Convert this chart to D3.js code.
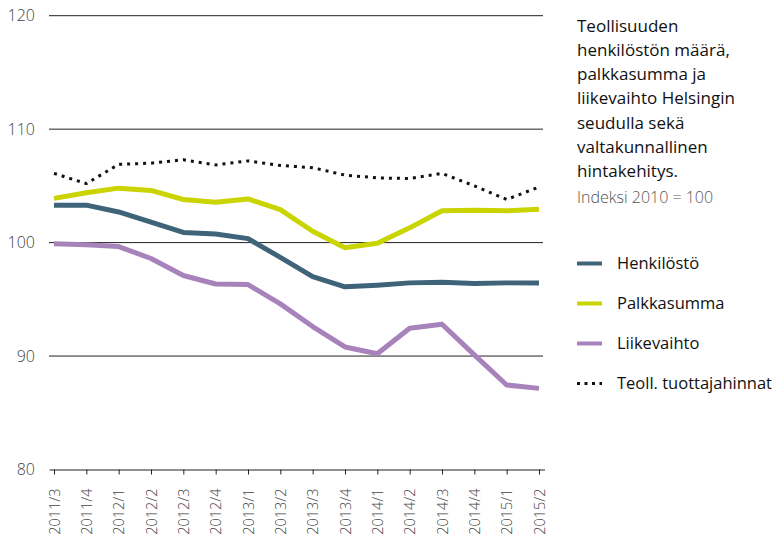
<!DOCTYPE html>
<html>
<head>
<meta charset="utf-8">
<script src="https://cdn.jsdelivr.net/npm/d3@7"></script>
<style>
  body { margin: 0; background: #fff; }
  svg { font-family: "Open Sans", sans-serif; }
</style>
</head>
<body>
<div id="chart"></div>
<script>
var quarters = ["2011/3", "2011/4", "2012/1", "2012/2", "2012/3", "2012/4", "2013/1", "2013/2",
    "2013/3", "2013/4", "2014/1", "2014/2", "2014/3", "2014/4", "2015/1", "2015/2"];

var henkilosto = [103.3, 103.3, 102.7, 101.8, 100.9, 100.75, 100.35, 98.7, 97.0, 96.1, 96.25, 96.45, 96.5, 96.4, 96.45, 96.45];
var palkkasumma = [103.9, 104.4, 104.8, 104.6, 103.8, 103.55, 103.85, 102.9, 101.0, 99.55, 99.95, 101.3, 102.8, 102.85, 102.8, 102.95];
var liikevaihto = [99.9, 99.8, 99.65, 98.6, 97.1, 96.35, 96.3, 94.6, 92.6, 90.8, 90.2, 92.45, 92.8, 90.1, 87.45, 87.15];
var tuottajahinnat = [106.1, 105.2, 106.9, 107.0, 107.3, 106.85, 107.2, 106.8, 106.6, 105.95, 105.7, 105.65, 106.1, 105.0, 103.8, 104.9];

var yTicks = [80, 90, 100, 110, 120];

var titleLines = ["Teollisuuden", "henkilöstön määrä,", "palkkasumma ja",
    "liikevaihto Helsingin", "seudulla sekä", "valtakunnallinen", "hintakehitys."];
var subtitle = "Indeksi 2010 = 100";

var series = [
    { name: "Henkilöstö", values: henkilosto, color: "#3f6479", dash: null },
    { name: "Palkkasumma", values: palkkasumma, color: "#c9d400", dash: null },
    { name: "Liikevaihto", values: liikevaihto, color: "#a882bb", dash: null },
    { name: "Teoll. tuottajahinnat", values: tuottajahinnat, color: "#111", dash: "3,5" }
];

var width = 773, height = 540;

var svg = d3.select("#chart")
    .append("svg")
    .attr("width", width)
    .attr("height", height);

var x = d3.scalePoint()
    .domain(quarters)
    .range([54, 539]);

var y = d3.scaleLinear()
    .domain([80, 120])
    .range([469.5, 15.7]);

// gridlines
svg.append("g")
    .selectAll("line")
    .data(yTicks.filter(d => d > 80))
    .join("line")
    .attr("x1", 49)
    .attr("x2", 543)
    .attr("y1", d => y(d))
    .attr("y2", d => y(d))
    .attr("stroke", "#222")
    .attr("stroke-width", 1);

// y labels
svg.append("g")
    .selectAll("text")
    .data(yTicks)
    .join("text")
    .attr("x", 35)
    .attr("y", d => y(d))
    .attr("dy", "0.35em")
    .attr("text-anchor", "end")
    .attr("font-size", 16)
    .attr("font-weight", 300)
    .attr("fill", "#444")
    .text(d => d);

// x axis
var xAxis = d3.axisBottom(x)
    .tickSize(5)
    .tickSizeOuter(0);

var gx = svg.append("g")
    .attr("transform", "translate(0," + y(80) + ")")
    .call(xAxis);

gx.select(".domain")
    .attr("d", "M49.5,0.5H545")
    .attr("stroke", "#222");
gx.selectAll(".tick line").attr("stroke", "#222");
gx.selectAll(".tick text")
    .attr("transform", "rotate(-90)")
    .attr("text-anchor", "end")
    .attr("x", -19)
    .attr("y", 0)
    .attr("dy", "0.35em")
    .attr("font-size", 14.5)
    .attr("font-weight", 300)
    .attr("fill", "#444")
    .attr("font-family", "Open Sans, sans-serif");

// lines
var line = d3.line()
    .x((d, i) => x(quarters[i]))
    .y(d => y(d));

svg.append("g")
    .selectAll("path")
    .data(series)
    .join("path")
    .attr("d", d => line(d.values))
    .attr("fill", "none")
    .attr("stroke", d => d.color)
    .attr("stroke-width", d => d.dash ? 3 : 5)
    .attr("stroke-dasharray", d => d.dash)
    .attr("stroke-linejoin", "round");

// title
var title = svg.append("text")
    .attr("x", 577)
    .attr("y", 31.5)
    .attr("font-size", 17)
    .attr("fill", "#111");

title.selectAll("tspan")
    .data(titleLines)
    .join("tspan")
    .attr("x", 577)
    .attr("dy", (d, i) => i === 0 ? 0 : 24.3)
    .text(d => d);

svg.append("text")
    .attr("x", 577)
    .attr("y", 203)
    .attr("font-size", 16)
    .attr("font-weight", 300)
    .attr("fill", "#555")
    .text(subtitle);

// legend
var legend = svg.append("g")
    .selectAll("g")
    .data(series)
    .join("g")
    .attr("transform", (d, i) => "translate(577," + (263.5 + i * 40) + ")");

legend.append("line")
    .attr("x1", 0)
    .attr("x2", 25)
    .attr("stroke", d => d.color)
    .attr("stroke-width", d => d.dash ? 3 : 4)
    .attr("stroke-dasharray", d => d.dash ? "3,4.5" : null);

legend.append("text")
    .attr("x", 40)
    .attr("dy", "0.35em")
    .attr("font-size", 16.5)
    .attr("fill", "#111")
    .text(d => d.name);
</script>
</body>
</html>
